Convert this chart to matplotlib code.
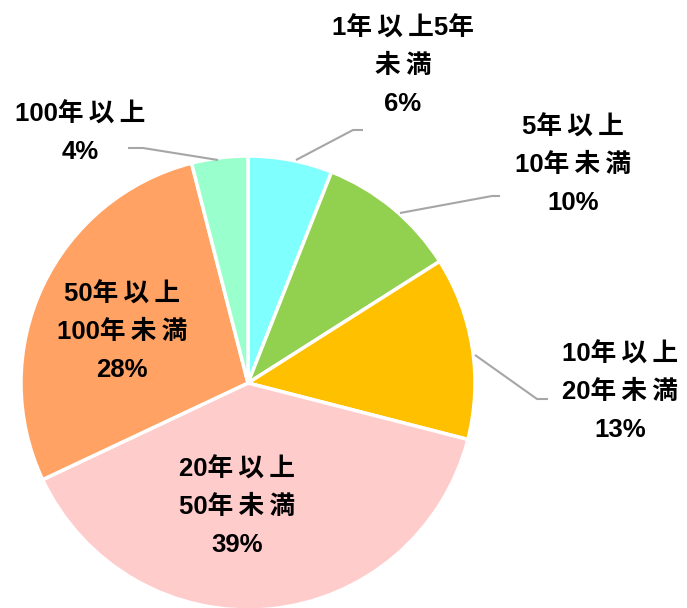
import matplotlib
matplotlib.use("Agg")
import matplotlib.pyplot as plt

labels = ["1年以上5年\n未満", "5年以上\n10年未満", "10年以上\n20年未満", "20年以上\n50年未満", "50年以上\n100年未満", "100年以上"]
values = [6, 10, 13, 39, 28, 4]
colors = ["#80FFFF", "#92D050", "#FFC000", "#FFCCCC", "#FFA264", "#99FFCC"]

W, H = 687, 608
fig = plt.figure(figsize=(W / 100, H / 100), dpi=100)
ax = fig.add_axes([0, 0, 1, 1])

cx, cy, r = 248, H - 383, 227
ax.pie(values, colors=colors, startangle=90, counterclock=False,
       center=(cx, cy), radius=r, frame=True,
       wedgeprops=dict(edgecolor="white", linewidth=2.5))
ax.set_xlim(0, W)
ax.set_ylim(0, H)
ax.set_aspect("equal")
ax.axis("off")

font = dict(family=["Liberation Sans", "Noto Sans CJK JP", "DejaVu Sans"], fontsize=18.5,
            fontweight="bold", ha="center", va="center", linespacing=1.72,
            color="#000000")


def spaced(s):
    out = []
    for i, ch in enumerate(s):
        out.append(ch)
        if i + 1 < len(s):
            nxt = s[i + 1]
            if ord(ch) > 0x2E80 and ord(nxt) > 0x2E80:
                out.append("\u2009")
    return "".join(out)


# label positions (pixel coords, y from top)
label_pos = [(403, 66), (573, 165), (620, 392), (237, 507), (122, 332), (80, 133)]
for lab, v, (x, y) in zip(labels, values, label_pos):
    ax.text(x, H - y, spaced(lab) + f"\n{v}%", **font)

# leader lines (pixel coords, y from top)
leaders = [
    [(296, 160), (353, 130), (363, 130)],
    [(400, 213), (492, 196), (500, 196)],
    [(475, 355), (537, 399), (548, 399)],
    [(218, 160), (143, 148), (128, 148)],
]
for pts in leaders:
    xs = [p[0] for p in pts]
    ys = [H - p[1] for p in pts]
    ax.plot(xs, ys, color="#A6A6A6", lw=1.5, solid_capstyle="butt")

fig.savefig("out.png", dpi=100)
